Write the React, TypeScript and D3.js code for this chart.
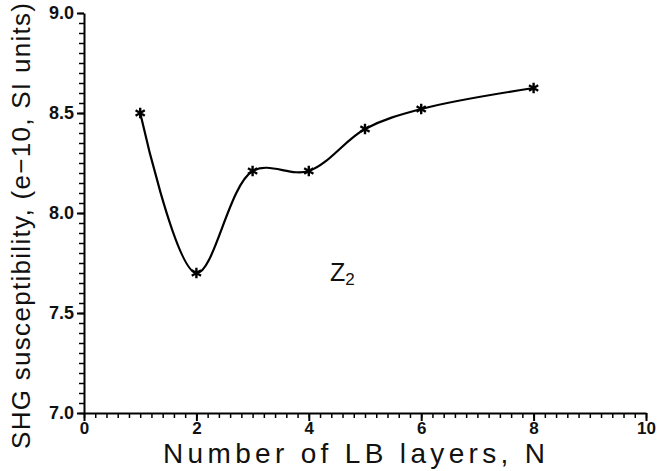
import { useEffect, useRef } from 'react';
import * as d3 from 'd3';

// values
const layers = [1, 2, 3, 4, 5, 6, 8];
const susceptibility = [8.5, 7.7, 8.21, 8.21, 8.42, 8.52, 8.625];

const xTickLabels = [0, 2, 4, 6, 8, 10];
const yTickLabels = [7.0, 7.5, 8.0, 8.5, 9.0];

const xTitle = 'Number of LB layers, N';
const yTitle = 'SHG  susceptibility,  (e\u221210,  SI  units)';

export default function App() {
  const svgRef = useRef<SVGSVGElement>(null);

  useEffect(() => {
    if (!svgRef.current) return;
    const svg = d3.select(svgRef.current);
    svg.selectAll('*').remove();

    const font = '"Liberation Sans", Arial, sans-serif';

    const x = d3.scaleLinear().domain([0, 10]).range([84, 646]);
    const y = d3.scaleLinear().domain([7, 9]).range([413, 13]);

    const xMinor = d3.range(0, 10.001, 0.2);
    const yMinor = d3.range(7, 9.001, 0.05);

    // x axis, minor then major
    svg.append('g')
      .attr('transform', `translate(0,${y(7)})`)
      .call(d3.axisBottom(x).tickValues(xMinor).tickSize(5).tickFormat(() => '').tickSizeOuter(0))
      .call(g => g.select('.domain').attr('stroke-width', 2))
      .call(g => g.selectAll('.tick line').attr('stroke-width', 1.5));

    svg.append('g')
      .attr('transform', `translate(0,${y(7)})`)
      .call(d3.axisBottom(x).tickValues(xTickLabels).tickSize(8).tickPadding(1).tickFormat(d3.format('d')).tickSizeOuter(0))
      .call(g => g.select('.domain').remove())
      .call(g => g.selectAll('.tick line').attr('stroke-width', 2))
      .call(g => g.selectAll('text')
        .attr('font-family', font)
        .attr('font-size', 17)
        .attr('font-weight', 'bold')
        .attr('fill', '#111'));

    // y axis
    svg.append('g')
      .attr('transform', `translate(${x(0)},0)`)
      .call(d3.axisLeft(y).tickValues(yMinor).tickSize(5).tickFormat(() => '').tickSizeOuter(0))
      .call(g => g.select('.domain').attr('stroke-width', 2))
      .call(g => g.selectAll('.tick line').attr('stroke-width', 1.5));

    svg.append('g')
      .attr('transform', `translate(${x(0)},0)`)
      .call(d3.axisLeft(y).tickValues(yTickLabels).tickSize(7).tickPadding(3).tickFormat(d3.format('.1f')).tickSizeOuter(0))
      .call(g => g.select('.domain').remove())
      .call(g => g.selectAll('.tick line').attr('stroke-width', 2))
      .call(g => g.selectAll('text')
        .attr('font-family', font)
        .attr('font-size', 18)
        .attr('font-weight', 'bold')
        .attr('fill', '#111'));

    const pts = layers.map((n, i) => [x(n), y(susceptibility[i])] as [number, number]);

    const line = d3.line().curve(d3.curveCatmullRom.alpha(0.5));
    svg.append('path')
      .attr('d', line(pts))
      .attr('fill', 'none')
      .attr('stroke', '#000')
      .attr('stroke-width', 2.2);

    const star = d3.symbol().type(d3.symbolAsterisk).size(80);
    svg.append('g')
      .selectAll('path')
      .data(pts)
      .join('path')
      .attr('transform', d => `translate(${d[0]},${d[1]})`)
      .attr('d', star)
      .attr('fill', 'none')
      .attr('stroke', '#000')
      .attr('stroke-width', 2.4);

    // Z2 annotation
    const z = svg.append('text')
      .attr('x', 330)
      .attr('y', 281)
      .attr('font-family', font)
      .attr('font-size', 25)
      .attr('fill', '#111');
    z.append('tspan').text('Z');
    z.append('tspan').attr('font-size', 17).attr('dy', 4).text('2');

    svg.append('text')
      .attr('x', 354)
      .attr('y', 463)
      .attr('text-anchor', 'middle')
      .attr('font-family', font)
      .attr('font-size', 28)
      .attr('fill', '#111')
      .attr('textLength', 382)
      .attr('lengthAdjust', 'spacing')
      .text(xTitle);

    svg.append('text')
      .attr('transform', `translate(30,226) rotate(-90)`)
      .attr('text-anchor', 'middle')
      .attr('font-family', font)
      .attr('font-size', 26)
      .attr('fill', '#111')
      .attr('textLength', 446)
      .attr('lengthAdjust', 'spacing')
      .text(yTitle);
  }, []);

  return (
    <svg
      ref={svgRef}
      width={657}
      height={471}
      style={{ position: 'absolute', left: 0, top: 0, background: '#fff' }}
    />
  );
}
